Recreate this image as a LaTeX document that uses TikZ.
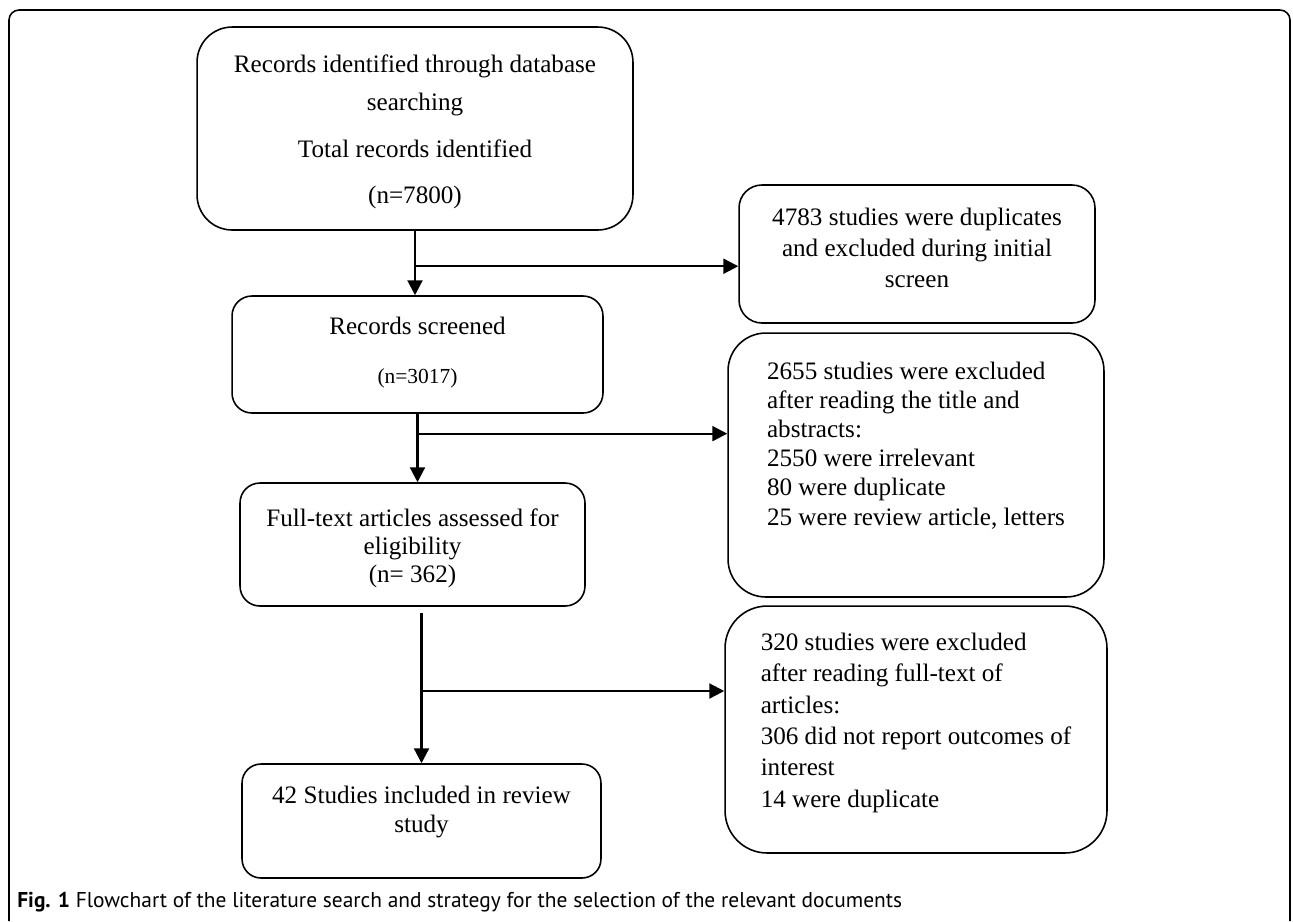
\documentclass[tikz,border=0pt]{standalone}
\usepackage{fontspec}
\setmainfont{Liberation Serif}
\newfontfamily\captionfont{PT Sans}
\usetikzlibrary{arrows.meta,calc}

\begin{document}
\begin{tikzpicture}[x=0.02cm, y=-0.02cm,
    every node/.style={inner sep=0pt},
    stage/.style={draw, line width=0.9pt, align=center, text depth=0.12cm, font=\fontsize{14.3}{#1}\selectfont},
    note/.style={draw, line width=0.9pt, align=left, text depth=0.12cm, font=\fontsize{14.3}{#1}\selectfont},
    link/.style={line width=1.3pt, -{Triangle[length=8.5pt, width=8.5pt]}}]
\useasboundingbox (0,0) rectangle (1293,921);
\draw[line width=0.9pt, rounded corners=5.7pt] (9,921) -- (9,10) -- (1290,10) -- (1290,921);

\node[stage=21.5pt, rounded corners=20pt, minimum width=8.72cm, minimum height=4.06cm, text height=3.14cm] (records) at (415,128.5)
  {Records identified through database\\ searching\\[5.1pt] Total records identified\\[5.1pt] (n=7800)};
\node[stage=17.6pt, rounded corners=13pt, minimum width=7.12cm, minimum height=2.76cm, text height=1.44cm] (duplicates) at (917,254)
  {4783 studies were duplicates\\ and excluded during initial\\ screen};
\node[stage=27.8pt, rounded corners=11.3pt, minimum width=7.42cm, minimum height=2.34cm, text height=1.26cm] (screened) at (417.5,354.5)
  {Records screened\\ {\fontsize{12.2}{14}\selectfont (n=3017)}};
\node[note=16.6pt, rounded corners=21.5pt, minimum width=7.52cm, minimum height=5.28cm, text height=2.52cm] (abstracts) at (916,465)
  {2655 studies were excluded\\ after reading the title and\\ abstracts:\\ 2550 were irrelevant\\ 80 were duplicate\\ 25 were review article, letters};
\node[stage=15.9pt, rounded corners=11.3pt, minimum width=6.9cm, minimum height=2.46cm, text height=1.62cm] (fulltext) at (412.5,544.5)
  {Full-text articles assessed for\\ eligibility\\ (n= 362)};
\node[note=17.8pt, rounded corners=24pt, minimum width=7.64cm, minimum height=4.94cm, text height=3.22cm] (articles) at (916,729.5)
  {320 studies were excluded\\ after reading full-text of\\ articles:\\ 306 did not report outcomes of\\ interest\\ 14 were duplicate};
\node[stage=16.4pt, rounded corners=10.8pt, minimum width=7.18cm, minimum height=2.28cm, text height=0.56cm] (included) at (421.5,821)
  {42 Studies included in review\\ study};

\coordinate (split1) at ($(records.south)!0.55!(records.south |- screened.north)$);
\coordinate (split2) at ($(screened.south)!0.29!(screened.south |- fulltext.north)$);
\coordinate (gap) at ([yshift=-3.4pt]fulltext.south -| included.north);
\coordinate (split3) at ($(gap)!0.52!(included.north)$);

\draw[link] (records.south) -- (records.south |- screened.north);
\draw[link] (split1) -- (split1 -| duplicates.west);
\draw[link] (screened.south) -- (screened.south |- fulltext.north);
\draw[link] (split2) -- (split2 -| abstracts.west);
\draw[link] (gap) -- (included.north);
\draw[link] (split3) -- (split3 -| articles.west);

\node[anchor=base west, font={\captionfont\fontsize{12.2}{14}\selectfont}] (caption) at (17,907)
  {\textbf{Fig. 1} Flowchart of the literature search and strategy for the selection of the relevant documents};
\end{tikzpicture}
\end{document}
